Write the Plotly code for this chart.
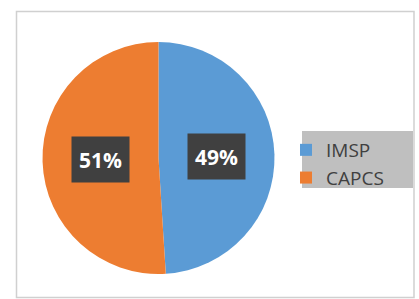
import math
import plotly.graph_objects as go

labels = ["IMSP", "CAPCS"]
values = [49, 51]
colors = ["#5B9BD5", "#ED7D31"]

W, H = 419, 299
cx, cy, R = 158.5, 158.0, 116.0  # pie centre/radius in px (from top-left)

fig = go.Figure()
fig.add_trace(go.Pie(
    labels=labels, values=values, sort=False, direction="clockwise", rotation=0,
    marker=dict(colors=colors, line=dict(color="white", width=0)),
    textinfo="none", hoverinfo="label+percent",
    domain=dict(x=[(cx - R) / W, (cx + R) / W], y=[1 - (cy + R) / H, 1 - (cy - R) / H]),
))

# data labels in dark boxes placed at the mid-angle of each slice
total = sum(values)
cum = 0
annotations = []
for lab, v in zip(labels, values):
    theta = math.radians(360 * (cum + v / 2) / total)
    cum += v
    px = cx + 0.5 * R * math.sin(theta)
    py = cy - 0.5 * R * math.cos(theta)
    annotations.append(dict(
        x=px / W, y=1 - py / H, xref="paper", yref="paper",
        text="<b>%d%%</b>" % round(100 * v / total), showarrow=False,
        font=dict(family="Open Sans, sans-serif", size=21, color="white"),
        bgcolor="#404040", width=49, height=37, borderpad=4,
        xanchor="center", yanchor="middle",
    ))

shapes = [
    dict(type="rect", xref="paper", yref="paper",
         x0=16.5 / W, x1=414 / W, y0=1 - 297.5 / H, y1=1 - 11.5 / H,
         line=dict(color="#d0d0d0", width=1.5), fillcolor="rgba(0,0,0,0)", layer="below"),
    dict(type="rect", xref="paper", yref="paper",
         x0=302 / W, x1=413 / W, y0=1 - 188 / H, y1=1 - 131 / H,
         line=dict(width=0), fillcolor="#bfbfbf", layer="below"),
]

fig.update_layout(
    width=W, height=H, margin=dict(l=0, r=0, t=0, b=0),
    paper_bgcolor="white", plot_bgcolor="white",
    showlegend=True,
    legend=dict(x=286 / W, y=1 - 131 / H, xanchor="left", yanchor="top",
                bgcolor="rgba(0,0,0,0)",
                font=dict(family="Open Sans, sans-serif", size=19, color="#404040")),
    annotations=annotations, shapes=shapes,
)

fig.write_html("out.html", config={"displayModeBar": False},
               post_script="document.body.style.margin='0';document.body.style.padding='0';")
